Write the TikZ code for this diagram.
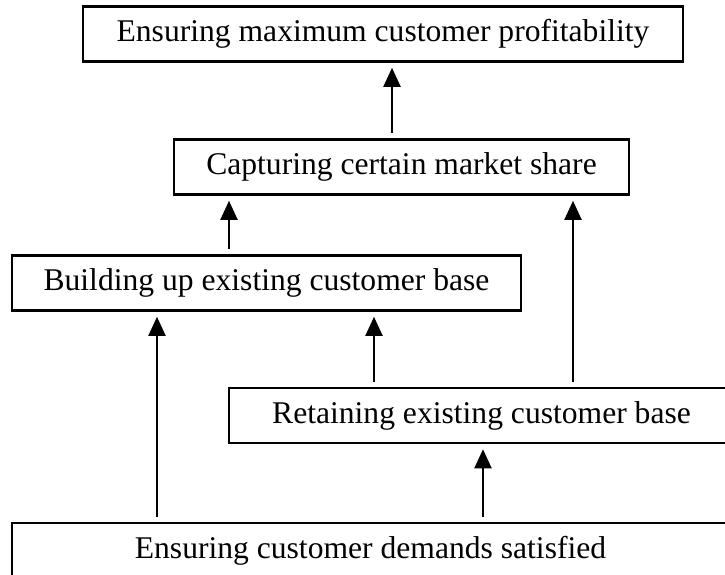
\documentclass[tikz,border=0pt]{standalone}
\usepackage{fontspec}
\setmainfont{Liberation Serif}
\usetikzlibrary{arrows.meta}

\tikzset{
  goal/.style={draw,line width=2.6pt,inner sep=0pt,minimum height=55pt,
    font=\fontsize{31.6}{36}\selectfont},
  lead/.style={line width=2pt,-{Triangle[length=19pt,width=17pt]},
    shorten >=5pt,shorten <=5pt}
}

\begin{document}
\begin{tikzpicture}[x=1pt,y=-1pt]
  \path[use as bounding box,clip] (0,0) rectangle (725,575);
  % the goals, top to bottom
  \node[goal,minimum width=600pt] (profit) at (383,34) {Ensuring maximum customer profitability};
  \node[goal,minimum width=455pt] (share) at (401.5,167) {Capturing certain market share};
  \node[goal,minimum width=509pt] (build) at (266.5,283) {Building up existing customer base};
  \node[goal,minimum width=505pt] (retain) at (481.5,415.5) {Retaining existing customer base};
  \node[goal,minimum width=717pt] (demand) at (370.5,550.5) {Ensuring customer demands satisfied};

  % what leads to what
  \draw[lead] ([xshift=-9.5pt]share.north) -- ([xshift=-9.5pt]share.north |- profit.south);
  \draw[lead] ([xshift=-37.5pt]build.north) -- ([xshift=-37.5pt]build.north |- share.south);
  \draw[lead] ([xshift=91.5pt]retain.north) -- ([xshift=91.5pt]retain.north |- share.south);
  \draw[lead] ([xshift=-107.5pt]retain.north) -- ([xshift=-107.5pt]retain.north |- build.south);
  \draw[lead] ([xshift=-213.5pt]demand.north) -- ([xshift=-213.5pt]demand.north |- build.south);
  \draw[lead] ([xshift=112.5pt]demand.north) -- ([xshift=112.5pt]demand.north |- retain.south);
\end{tikzpicture}
\end{document}
